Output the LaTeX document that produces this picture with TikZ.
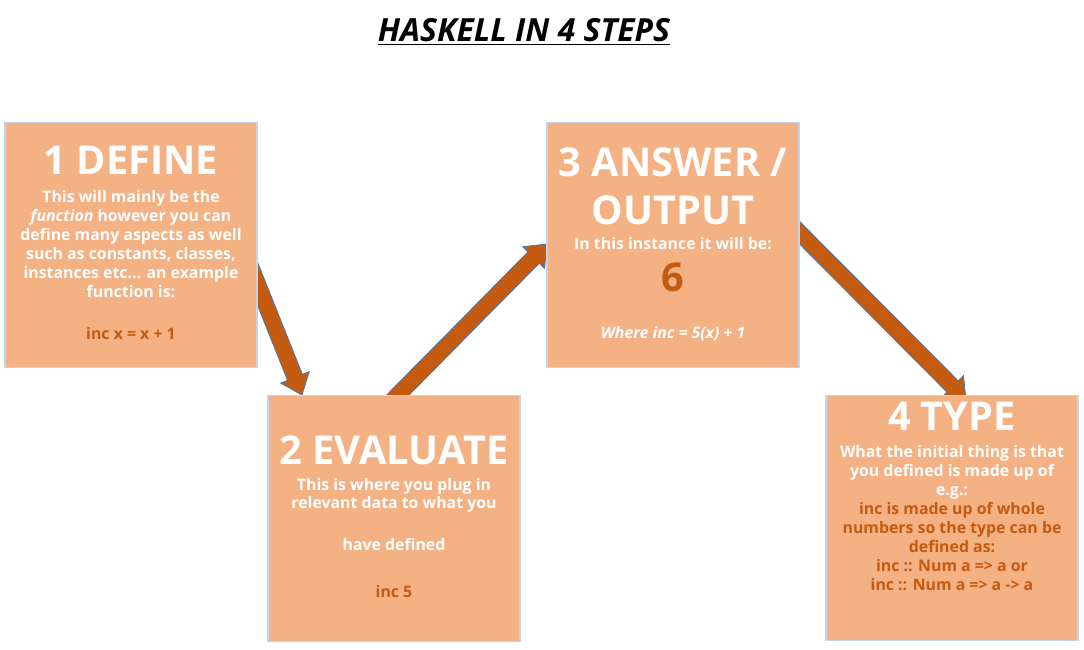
\documentclass[tikz,border=0pt]{standalone}
\usepackage{fontspec}
\setmainfont{Open Sans}
\usetikzlibrary{calc}
\definecolor{boxfill}{HTML}{F4B183}
\definecolor{boxline}{HTML}{C5D4EA}
\definecolor{darkorange}{HTML}{C55A11}
\definecolor{arrowline}{HTML}{4A75A8}
\tikzset{
  stepbox/.style={draw=boxline, line width=0.8pt, fill=boxfill, minimum width=189pt, minimum height=184pt, inner sep=0pt},
  headtxt/.style={font=\fontsize{29.8}{34}\selectfont\bfseries, text=white, anchor=base, inner sep=0pt},
  bodytxt/.style={font=\fontsize{11.9}{14.25}\selectfont\bfseries, text=white, anchor=base, inner sep=0pt},
  codetxt/.style={bodytxt, text=darkorange},
  titletxt/.style={font=\fontsize{23.9}{28}\selectfont\bfseries\itshape, text=black, anchor=base, inner sep=0pt},
  blockarrow/.style={fill=darkorange, draw=arrowline, line width=0.6pt, line join=miter}
}
\newcommand\drawblockarrow[2]{%
  \coordinate (#1-c) at ($(#2)!14.25pt!(#1)$);
  \path[blockarrow] ($(#1)!6pt!90:(#2)$) -- ($(#1-c)!6pt!-90:(#1)$) -- ($(#1-c)!11.5pt!-90:(#1)$) -- (#2)
     -- ($(#1-c)!11.5pt!90:(#1)$) -- ($(#1-c)!6pt!90:(#1)$) -- ($(#1)!6pt!-90:(#2)$) -- cycle;}
\begin{document}
\begin{tikzpicture}[x=0.75pt,y=-0.75pt]
\useasboundingbox[fill=white] (0,0) rectangle (1084,649);
% arrows (behind boxes)
\coordinate (a1s) at (234,225);
\coordinate (a1t) at (302,395);
\coordinate (a2s) at (385,408);
\coordinate (a2t) at (547,244);
\coordinate (a3s) at (785,218);
\coordinate (a3t) at (966,400);
\drawblockarrow{a1s}{a1t}
\drawblockarrow{a2s}{a2t}
\drawblockarrow{a3s}{a3t}
% boxes
\node[stepbox] (b1) at (131,245) {};
\node[stepbox] (b2) at (394,518.5) {};
\node[stepbox] (b3) at (673,245) {};
\node[stepbox] (b4) at (952,518) {};
% title
\node[titletxt] (title) at (524,42) {\underline{HASKELL IN 4 STEPS}};
% box 1
\node[headtxt] (h1) at (131,175) {1 DEFINE};
\node[bodytxt] (d1) at (131,202) {This will mainly be the};
\node[bodytxt] (d2) at (131,221) {\itshape function\upshape{} however you can};
\node[bodytxt] (d3) at (131,240) {define many aspects as well};
\node[bodytxt] (d4) at (131,259) {such as constants, classes,};
\node[bodytxt] (d5) at (131,278) {instances etc... an example};
\node[bodytxt] (d6) at (131,297) {function is:};
\node[codetxt] (c1) at (131,339) {inc x = x + 1};
% box 2
\node[headtxt] (h2) at (394,464) {2 EVALUATE};
\node[bodytxt] (e1) at (394,490) {This is where you plug in};
\node[bodytxt] (e2) at (394,508) {relevant data to what you};
\node[bodytxt] (e3) at (394,550) {have defined};
\node[codetxt] (c2) at (394,597) {inc 5};
% box 3
\node[headtxt] (h3a) at (673,176) {3 ANSWER /};
\node[headtxt] (h3b) at (673,224) {OUTPUT};
\node[bodytxt] (o1) at (673,249) {In this instance it will be:};
\node[headtxt, text=darkorange] (six) at (673,291) {6};
\node[bodytxt] (o2) at (673,338) {\itshape Where inc = 5(x) + 1};
% box 4
\node[headtxt] (h4) at (952,430) {4 TYPE};
\node[bodytxt] (w1) at (952,457) {What the initial thing is that};
\node[bodytxt] (w2) at (952,476) {you defined is made up of};
\node[bodytxt] (w3) at (952,495) {e.g.:};
\node[codetxt] (v1) at (952,514) {inc is made up of whole};
\node[codetxt] (v2) at (952,533) {numbers so the type can be};
\node[codetxt] (v3) at (952,552) {defined as:};
\node[codetxt] (v4) at (952,571) {inc :: Num a => a or};
\node[codetxt] (v5) at (952,590) {inc :: Num a => a -> a};
\end{tikzpicture}
\end{document}
